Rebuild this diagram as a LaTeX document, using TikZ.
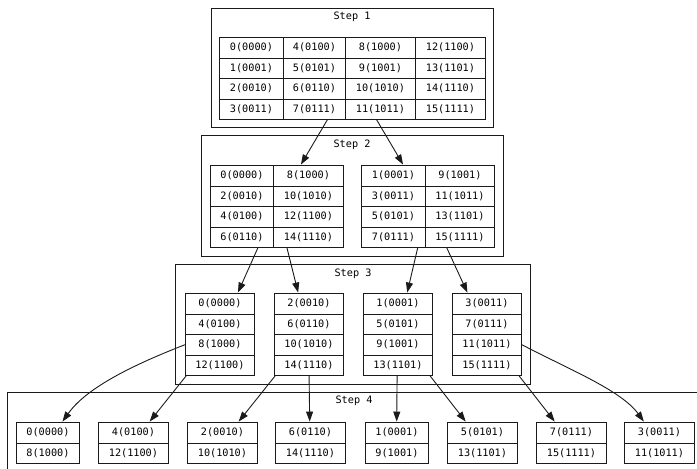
\documentclass[tikz,border=0pt]{standalone}
\usepackage{fontspec}
\setmonofont{DejaVu Sans Mono}
\usepackage{tikz}
\usetikzlibrary{arrows.meta}
\definecolor{gvLine}{HTML}{1A1A1A}
\tikzset{
  cluster/.style={draw=gvLine, line width=0.9pt},
  clusterlabel/.style={font=\ttfamily\fontsize{10.2}{12}\selectfont, inner sep=0pt},
  cell/.style={rectangle, draw=gvLine, line width=0.9pt, anchor=north west, minimum height=20.5pt, inner sep=0pt, font=\ttfamily\fontsize{10.2}{12}\selectfont},
  record/.style={rectangle, draw=gvLine, line width=0.9pt, inner sep=0pt},
  edge/.style={-{Triangle[length=10pt,width=7pt]}, line width=0.9pt, draw=gvLine},
}
% one column of a record: name, left x, top y, width, texts
\newcommand{\recordcol}[5]{%
  \foreach \t [count=\r] in {#5}
    \node[cell, minimum width=#4pt] (#1-\r) at (#2,{#3+20.5*(\r-1)}) {\t};}

\begin{document}
\begin{tikzpicture}[x=1pt,y=-1pt]
  \useasboundingbox (0,0) rectangle (697,469);

  % --- clusters ---
  \draw[cluster] (211,8) rectangle (493,127);
  \node[clusterlabel] (lab1) at (352,17) {Step 1};
  \draw[cluster] (201,135) rectangle (503,256);
  \node[clusterlabel] (lab2) at (352,145) {Step 2};
  \draw[cluster] (175,264) rectangle (530,384);
  \node[clusterlabel] (lab3) at (353,274) {Step 3};
  \draw[cluster] (7,392) rectangle (702,472);
  \node[clusterlabel] (lab4) at (354,401) {Step 4};

  % --- step 1 ---
  \node[record, minimum width=266pt, minimum height=82pt] (s1) at (352,78) {};
  \recordcol{s1a}{219}{37}{64}{0(0000),1(0001),2(0010),3(0011)}
  \recordcol{s1b}{283}{37}{62}{4(0100),5(0101),6(0110),7(0111)}
  \recordcol{s1c}{345}{37}{70}{8(1000),9(1001),10(1010),11(1011)}
  \recordcol{s1d}{415}{37}{70}{12(1100),13(1101),14(1110),15(1111)}

  % --- step 2 ---
  \node[record, minimum width=133pt, minimum height=82pt] (s2a) at (276.5,206) {};
  \recordcol{s2a1}{210}{165}{63}{0(0000),2(0010),4(0100),6(0110)}
  \recordcol{s2a2}{273}{165}{70}{8(1000),10(1010),12(1100),14(1110)}
  \node[record, minimum width=133pt, minimum height=82pt] (s2b) at (427.5,206) {};
  \recordcol{s2b1}{361}{165}{64}{1(0001),3(0011),5(0101),7(0111)}
  \recordcol{s2b2}{425}{165}{69}{9(1001),11(1011),13(1101),15(1111)}

  % --- step 3 ---
  \node[record, minimum width=69pt, minimum height=82pt] (s3a) at (219.5,334) {};
  \recordcol{s3a}{185}{293}{69}{0(0000),4(0100),8(1000),12(1100)}
  \node[record, minimum width=69pt, minimum height=82pt] (s3b) at (308.5,334) {};
  \recordcol{s3b}{274}{293}{69}{2(0010),6(0110),10(1010),14(1110)}
  \node[record, minimum width=69pt, minimum height=82pt] (s3c) at (397.5,334) {};
  \recordcol{s3c}{363}{293}{69}{1(0001),5(0101),9(1001),13(1101)}
  \node[record, minimum width=69pt, minimum height=82pt] (s3d) at (486.5,334) {};
  \recordcol{s3d}{452}{293}{69}{3(0011),7(0111),11(1011),15(1111)}

  % --- step 4 ---
  \node[record, minimum width=63pt, minimum height=41pt] (s4a) at (47.5,442.5) {};
  \recordcol{s4a}{16}{422}{63}{0(0000),8(1000)}
  \node[record, minimum width=70pt, minimum height=41pt] (s4b) at (133,442.5) {};
  \recordcol{s4b}{98}{422}{70}{4(0100),12(1100)}
  \node[record, minimum width=70pt, minimum height=41pt] (s4c) at (222,442.5) {};
  \recordcol{s4c}{187}{422}{70}{2(0010),10(1010)}
  \node[record, minimum width=70pt, minimum height=41pt] (s4d) at (310,442.5) {};
  \recordcol{s4d}{275}{422}{70}{6(0110),14(1110)}
  \node[record, minimum width=63pt, minimum height=41pt] (s4e) at (396.5,442.5) {};
  \recordcol{s4e}{365}{422}{63}{1(0001),9(1001)}
  \node[record, minimum width=70pt, minimum height=41pt] (s4f) at (482,442.5) {};
  \recordcol{s4f}{447}{422}{70}{5(0101),13(1101)}
  \node[record, minimum width=70pt, minimum height=41pt] (s4g) at (571,442.5) {};
  \recordcol{s4g}{536}{422}{70}{7(0111),15(1111)}
  \node[record, minimum width=70pt, minimum height=41pt] (s4h) at (659,442.5) {};
  \recordcol{s4h}{624}{422}{70}{3(0011),11(1011)}

  % --- edges ---
  \draw[edge] (s1) -- (s2a);
  \draw[edge] (s1) -- (s2b);
  \draw[edge] (s2a) -- (s3a);
  \draw[edge] (s2a) -- (s3b);
  \draw[edge] (s2b) -- (s3c);
  \draw[edge] (s2b) -- (s3d);
  \draw[edge] (s3a-3.west) .. controls (125,368) and (85,390) .. (s4a);
  \draw[edge] (s3a) -- (s4b);
  \draw[edge] (s3b) -- (s4c);
  \draw[edge] (s3b) -- (s4d);
  \draw[edge] (s3c) -- (s4e);
  \draw[edge] (s3c) -- (s4f);
  \draw[edge] (s3d) -- (s4g);
  \draw[edge] (s3d-3.east) .. controls (566,368) and (621,390) .. (s4h);
\end{tikzpicture}
\end{document}
